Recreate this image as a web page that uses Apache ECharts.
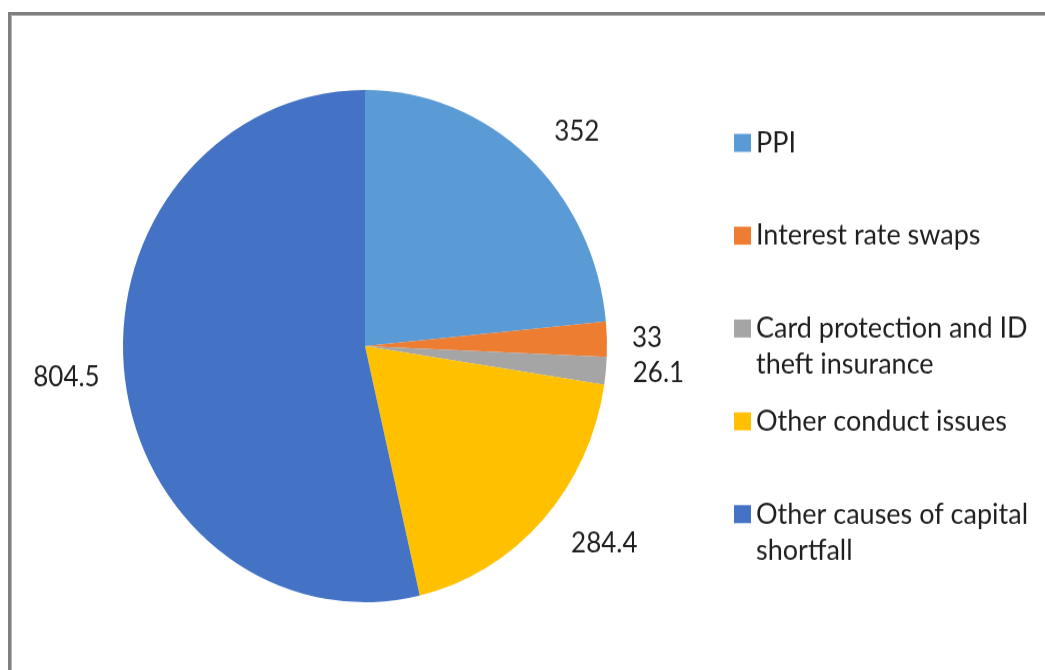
<!DOCTYPE html>
<html>
<head>
<meta charset="utf-8">
<script src="https://cdn.jsdelivr.net/npm/echarts@6/dist/echarts.min.js"></script>
<style>
    html, body {
        margin: 0;
        padding: 0;
        background: #ffffff;
    }
    .frame {
        position: absolute;
        left: 8px;
        top: 12px;
        width: 1045px;
        height: 670px;
        border-left: 3px solid #808080;
        border-top: 3px solid #808080;
        box-shadow: inset 1px 1px 0 #b4b4b4;
    }
    /* the source picture is a little taller than wide, so the pie is stretched */
    .chart-container {
        position: absolute;
        left: 0;
        top: 0;
        width: 1045px;
        height: 633px;
        transform: scaleY(1.0583);
        transform-origin: 0 0;
    }
</style>
</head>
<body>
<div class="frame"></div>
<div id="chart" class="chart-container"></div>
<script>
// categories and values, clockwise from 12 o'clock
const categories = [
    'PPI',
    'Interest rate swaps',
    'Card protection and ID theft insurance',
    'Other conduct issues',
    'Other causes of capital shortfall',
]
const values = [352, 33, 26.1, 284.4, 804.5]
const colors = ['#5b9bd5', '#ed7d31', '#a5a5a5', '#ffc000', '#4472c4']

// how far each value label sits outside the rim
const labelReach = [32, 20, 22, 32, 20]

const font = 'Lato, "Open Sans", sans-serif'
const textColor = '#1f1f1f'
const legendFontSize = 27
const legendWidth = 285
const lineH = 34

// legend icons sit on the first text line, so every entry is made three
// lines tall: an empty line, the name (wrapped by echarts), padding line
const measure = document.createElement('canvas').getContext('2d')
measure.font = legendFontSize + 'px ' + font
const legendText = (name) => {
    const fits = measure.measureText(name).width <= legendWidth
    return '\n' + name + (fits ? '\n ' : '')
}

const chart = echarts.init(document.getElementById('chart'), null, { renderer: 'canvas' })

chart.setOption({
    animation: false,
    backgroundColor: 'transparent',
    color: colors,
    legend: {
        orient: 'vertical',
        left: 729,
        top: 79,
        padding: 5,
        itemWidth: 17,
        itemHeight: 17,
        itemGap: 87.7 - 3 * lineH,
        icon: 'rect',
        selectedMode: false,
        data: categories,
        formatter: legendText,
        textStyle: {
            fontFamily: font,
            fontSize: legendFontSize,
            color: textColor,
            width: legendWidth,
            lineHeight: lineH,
            overflow: 'break',
        },
    },
    series: [
        {
            type: 'pie',
            center: [365, 327],
            radius: 242,
            startAngle: 90,
            clockwise: true,
            avoidLabelOverlap: false,
            silent: true,
            itemStyle: { borderWidth: 0 },
            label: {
                show: true,
                position: 'outside',
                formatter: '{c}',
                fontFamily: font,
                fontSize: 26,
                color: textColor,
            },
            labelLine: { show: false, length2: 0 },
            data: categories.map((name, i) => ({
                name: name,
                value: values[i],
                labelLine: { length: labelReach[i], length2: 0 },
            })),
        },
    ],
})
</script>
</body>
</html>
